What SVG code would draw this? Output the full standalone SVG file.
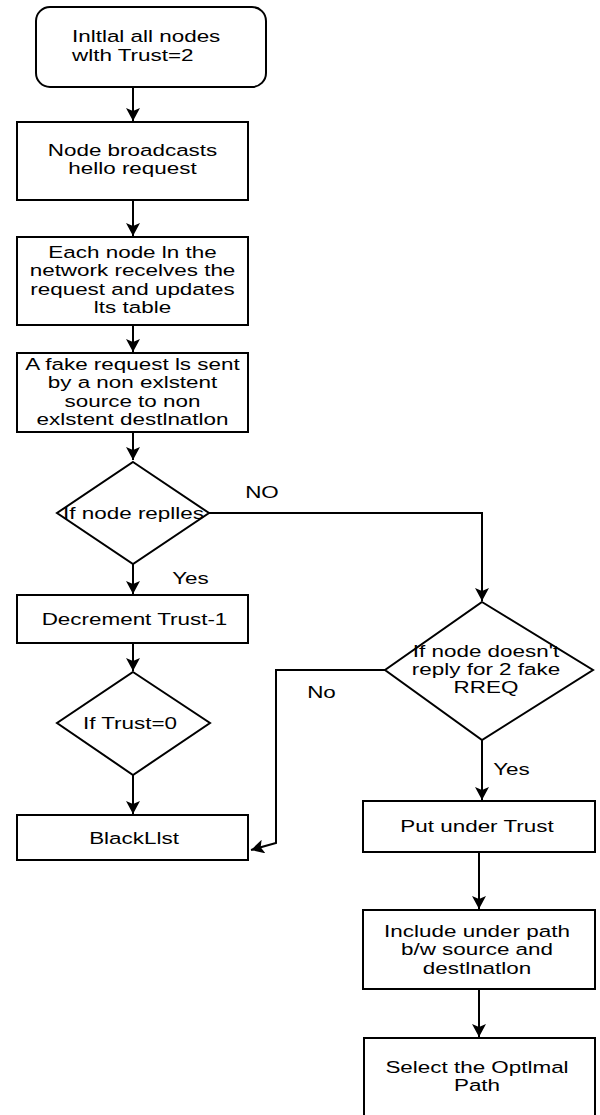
<svg xmlns="http://www.w3.org/2000/svg" width="600" height="1115" viewBox="0 0 600 1115">
<style>
.s{fill:#fff;stroke:#000;stroke-width:2}
.c{fill:none;stroke:#000;stroke-width:2}
text{font-family:"Liberation Sans",Arial,sans-serif;font-size:17px;fill:#000;text-anchor:middle}
.l{text-anchor:start}
</style>
<defs>
<marker id="ah" markerUnits="userSpaceOnUse" markerWidth="15" markerHeight="14" refX="13" refY="7" orient="auto">
<path d="M0,0 L13,7 L0,14 L3,7 z" fill="#000"/>
</marker>
</defs>
<rect width="600" height="1115" fill="#fff"/>
<g id="connectors">
<path class="c" d="M133,87 V121" marker-end="url(#ah)"/>
<path class="c" d="M133,200 V236" marker-end="url(#ah)"/>
<path class="c" d="M133,325 V352" marker-end="url(#ah)"/>
<path class="c" d="M133,432 V460" marker-end="url(#ah)"/>
<path class="c" d="M133,564 V594" marker-end="url(#ah)"/>
<path class="c" d="M133,643 V671" marker-end="url(#ah)"/>
<path class="c" d="M133,775 V814" marker-end="url(#ah)"/>
<path class="c" d="M209,513 H482 V601" marker-end="url(#ah)"/>
<path class="c" d="M385,670 H276 V843 L251,850" marker-end="url(#ah)"/>
<path class="c" d="M482,740 V800" marker-end="url(#ah)"/>
<path class="c" d="M479,852 V909" marker-end="url(#ah)"/>
<path class="c" d="M479,989 V1037" marker-end="url(#ah)"/>
<text transform="matrix(1.32,0,0,1,262,498)">NO</text>
<text transform="matrix(1.32,0,0,1,190.5,584)">Yes</text>
<text transform="matrix(1.32,0,0,1,321.5,698)">No</text>
<text transform="matrix(1.32,0,0,1,511.5,775)">Yes</text>
</g>
<g id="start">
<rect class="s" x="36" y="7" width="230" height="80" rx="14"/>
<text class="l" transform="matrix(1.32,0,0,1,72,42)"><tspan x="0">Inltlal all nodes</tspan><tspan x="0" dy="19">wlth Trust=2</tspan></text>
</g>
<g id="broadcast">
<rect class="s" x="17" y="122" width="231" height="78"/>
<text transform="matrix(1.32,0,0,1,132.5,156)"><tspan x="0">Node broadcasts</tspan><tspan x="0" dy="18.5">hello request</tspan></text>
</g>
<g id="receive">
<rect class="s" x="17" y="237" width="231" height="88"/>
<text transform="matrix(1.32,0,0,1,132.5,258)"><tspan x="0">Each node ln the</tspan><tspan x="0" dy="18.5">network recelves the</tspan><tspan x="0" dy="18.5">request and updates</tspan><tspan x="0" dy="18.5">lts table</tspan></text>
</g>
<g id="fake">
<rect class="s" x="17" y="353" width="231" height="79"/>
<text transform="matrix(1.32,0,0,1,132.5,370)"><tspan x="0">A fake request ls sent</tspan><tspan x="0" dy="18.5">by a non exlstent</tspan><tspan x="0" dy="18.5">source to non</tspan><tspan x="0" dy="18.5">exlstent destlnatlon</tspan></text>
</g>
<g id="replies">
<path class="s" d="M133,462 L209,513 L133,564 L57,513 Z"/>
<text transform="matrix(1.32,0,0,1,133.5,519)">If node replles</text>
</g>
<g id="decrement">
<rect class="s" x="17" y="595" width="231" height="48"/>
<text transform="matrix(1.32,0,0,1,134.5,625)">Decrement Trust-1</text>
</g>
<g id="trust0">
<path class="s" d="M133,672 L210,723 L133,775 L57,723 Z"/>
<text transform="matrix(1.32,0,0,1,130,729)">If Trust=0</text>
</g>
<g id="blacklist">
<rect class="s" x="17" y="815" width="231" height="45"/>
<text transform="matrix(1.32,0,0,1,134,844)">BlackLlst</text>
</g>
<g id="noreply">
<path class="s" d="M482,602 L593,670 L482,740 L385,670 Z"/>
<text transform="matrix(1.32,0,0,1,486,657)"><tspan x="0">If node doesn't</tspan><tspan x="0" dy="18">reply for 2 fake</tspan><tspan x="0" dy="18">RREQ</tspan></text>
</g>
<g id="puttrust">
<rect class="s" x="363" y="801" width="232" height="51"/>
<text transform="matrix(1.32,0,0,1,477,832)">Put under Trust</text>
</g>
<g id="include">
<rect class="s" x="363" y="910" width="232" height="79"/>
<text transform="matrix(1.32,0,0,1,477,937)"><tspan x="0">Include under path</tspan><tspan x="0" dy="18.5">b/w source and</tspan><tspan x="0" dy="18.5">destlnatlon</tspan></text>
</g>
<g id="optimal">
<rect class="s" x="364" y="1038" width="231" height="95"/>
<text transform="matrix(1.32,0,0,1,477,1073)"><tspan x="0">Select the Optlmal</tspan><tspan x="0" dy="18.5">Path</tspan></text>
</g>
</svg>
